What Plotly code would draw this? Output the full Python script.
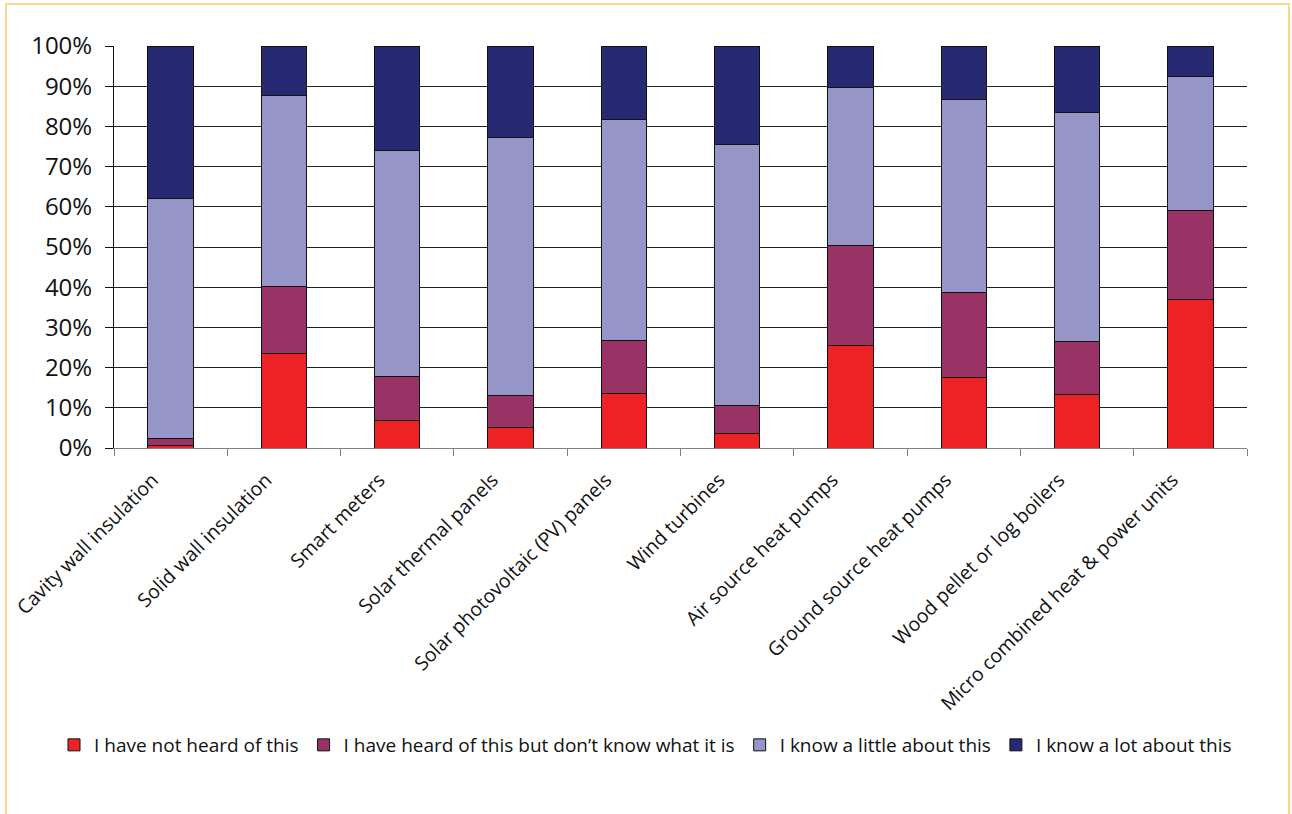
import plotly.graph_objects as go

categories = ["Cavity wall insulation", "Solid wall insulation", "Smart meters",
              "Solar thermal panels", "Solar photovoltaic (PV) panels", "Wind turbines",
              "Air source heat pumps", "Ground source heat pumps",
              "Wood pellet or log boilers", "Micro combined heat & power units"]
not_heard = [0.5, 23.5, 6.8, 5.1, 13.6, 3.7, 25.6, 17.5, 13.3, 36.9]
heard_dont_know = [1.8, 16.7, 11.0, 7.9, 13.2, 6.9, 24.7, 21.2, 13.2, 22.1]
know_little = [59.7, 47.4, 56.2, 64.3, 55.0, 64.9, 39.4, 48.1, 56.9, 33.4]
know_lot = [38.0, 12.4, 26.0, 22.7, 18.2, 24.5, 10.3, 13.2, 16.6, 7.6]

series_names = ["I have not heard of this", "I have heard of this but don\u2019t know what it is",
                "I know a little about this", "I know a lot about this"]
series_values = [not_heard, heard_dont_know, know_little, know_lot]
colors = ["#ED2224", "#993366", "#9595C8", "#272973"]

W, H = 1292, 814
ML, MR, MT, MB = 114, 45, 46, 366
PW, PH = W - ML - MR, H - MT - MB

fig = go.Figure()
for name, vals, col in zip(series_names, series_values, colors):
    fig.add_trace(go.Bar(x=categories, y=vals, name=name,
                         marker=dict(color=col, line=dict(color="#111111", width=1))))

font = "Open Sans, DejaVu Sans, sans-serif"
fig.update_layout(
    width=W, height=H,
    margin=dict(l=ML, r=MR, t=MT, b=MB, autoexpand=False),
    barmode="stack", bargap=0.6,
    plot_bgcolor="white", paper_bgcolor="white",
    font=dict(family=font, color="#111111"),
    showlegend=True,
    legend=dict(orientation="h", x=(54 - ML) / PW, xanchor="left",
                y=(448 - 745) / PH, yanchor="middle",
                font=dict(size=19, family=font), itemwidth=30,
                traceorder="normal"),
    xaxis=dict(showline=True, linecolor="#808080", linewidth=1,
               ticks="outside", ticklen=7, tickcolor="#808080",
               tickson="boundaries", tickangle=-45, ticklabelstandoff=12,
               ticklabelshift=-18,
               tickfont=dict(size=19.5, family=font), showgrid=False),
    yaxis=dict(range=[0, 100], dtick=10, ticksuffix="%",
               showline=True, linecolor="#111111", linewidth=1,
               ticks="outside", ticklen=8, tickcolor="#111111",
               showgrid=True, gridcolor="#222222", gridwidth=1,
               ticklabelstandoff=8,
               tickfont=dict(size=24, family=font), zeroline=False),
    shapes=[dict(type="rect", xref="paper", yref="paper",
                 x0=(6 - ML) / PW, x1=(1289 - ML) / PW,
                 y0=(448 - 840) / PH, y1=(448 - 4) / PH,
                 line=dict(color="#FDD88A", width=2), fillcolor="rgba(0,0,0,0)",
                 layer="below")],
)

fig.write_html("out.html")
